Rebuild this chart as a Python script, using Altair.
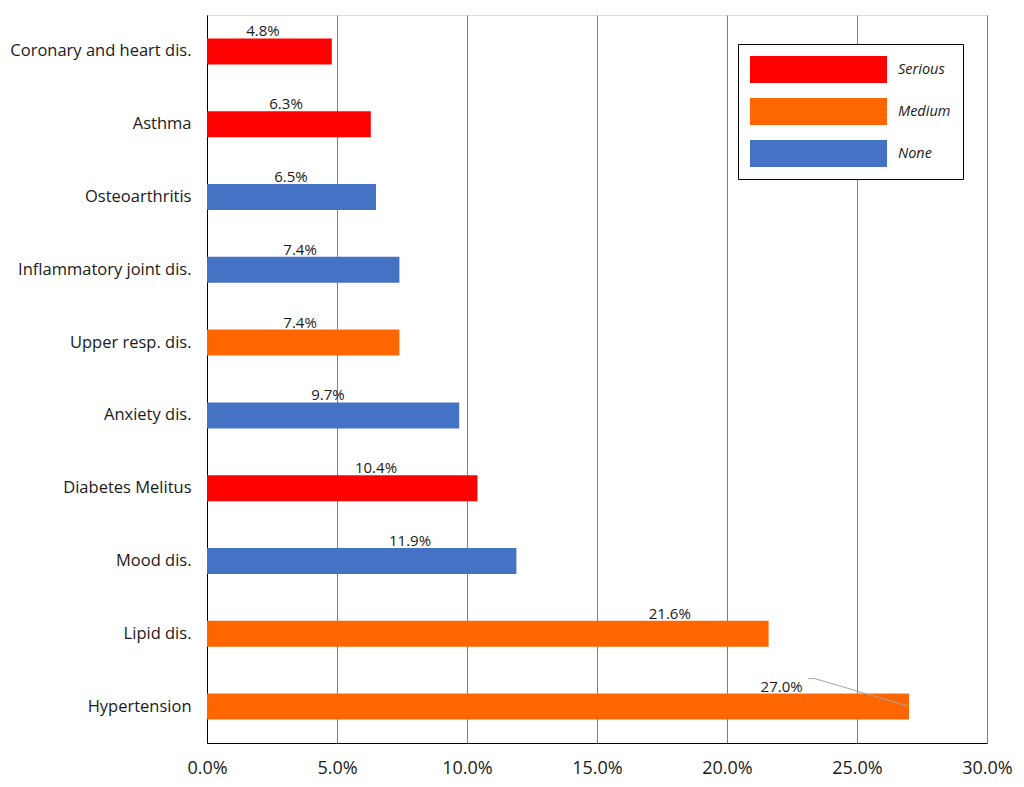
import altair as alt
import pandas as pd

categories = ["Coronary and heart dis.", "Asthma", "Osteoarthritis", "Inflammatory joint dis.",
              "Upper resp. dis.", "Anxiety dis.", "Diabetes Melitus", "Mood dis.", "Lipid dis.", "Hypertension"]
values = [4.8, 6.3, 6.5, 7.4, 7.4, 9.7, 10.4, 11.9, 21.6, 27.0]
severity = ["Serious", "Serious", "None", "None", "Medium", "None", "Serious", "None", "Medium", "Medium"]
label_pos = [2.15, 3.04, 3.23, 3.58, 3.58, 4.65, 6.5, 7.81, 17.8, 22.1]

sev_domain = ["Serious", "Medium", "None"]
sev_colors = ["#FF0000", "#FF6600", "#4472C4"]
tick_values = [0, 0.05, 0.10, 0.15, 0.20, 0.25, 0.30]

df = pd.DataFrame({
    "cat": categories,
    "val": [v / 100 for v in values],
    "sev": severity,
    "lpos": [p / 100 for p in label_pos],
    "label": [f"{v:.1f}%" for v in values],
})

FONT = "Open Sans"
TXT = "#1a1a1a"

y_enc = alt.Y("cat:N", sort=categories, title=None,
              scale=alt.Scale(paddingInner=0.643, paddingOuter=0.3215),
              axis=alt.Axis(labelFontSize=16.5, labelColor=TXT, labelPadding=16,
                            ticks=False, domainColor="black", labelFont=FONT, labelLimit=300))

base = alt.Chart(df)

bars = base.mark_bar().encode(
    x=alt.X("val:Q", title=None,
            scale=alt.Scale(domain=[0, 0.30], nice=False),
            axis=alt.Axis(values=tick_values, format=".1%", labelFontSize=18, labelColor=TXT,
                          labelPadding=16, ticks=False, grid=True, gridColor="#7f7f7f",
                          domainColor="black", labelFont=FONT, labelFlush=False)),
    y=y_enc,
    color=alt.Color("sev:N", scale=alt.Scale(domain=sev_domain, range=sev_colors),
                    legend=alt.Legend(title=None, orient="none", legendX=531, legendY=29,
                                      symbolType="M-1,-1L9.148,-1L9.148,1L-1,1Z",
                                      symbolSize=729, symbolStrokeWidth=0,
                                      labelFontStyle="italic", labelFontSize=14.5, labelFont=FONT,
                                      labelColor=TXT, labelOffset=121, rowPadding=15,
                                      padding=12, strokeColor="black", fillColor="white")),
)

texts = base.mark_text(fontSize=15, color=TXT, dy=-20, font=FONT).encode(
    x=alt.X("lpos:Q"),
    y=alt.Y("cat:N", sort=categories),
    text="label:N",
)

hyp = df[df["cat"] == "Hypertension"].copy()
hyp["x1"] = 0.2312
hyp["x2"] = 0.2338
hyp["x3"] = 0.2696

lead_color = "#a6a6a6"
lead1 = alt.Chart(hyp).mark_rule(color=lead_color, strokeWidth=1, yOffset=-28).encode(
    x="x1:Q", x2="x2:Q", y=alt.Y("cat:N", sort=categories, bandPosition=0.5))
lead2 = alt.Chart(hyp).mark_rule(color=lead_color, strokeWidth=1, yOffset=-28, y2Offset=-0.5).encode(
    x="x2:Q", x2="x3:Q", y=alt.Y("cat:N", sort=categories, bandPosition=0.5),
    y2=alt.Y2("cat:N", bandPosition=0.5))

chart = alt.layer(bars, texts, lead1, lead2).properties(
    width=780, height=728,
    autosize=alt.AutoSizeParams(type="none"),
    padding={"left": 199, "top": 7, "right": 28, "bottom": 42},
).configure_view(stroke="black", strokeWidth=1).configure(font=FONT)

chart.save("out.html", embed_options={"renderer": "svg", "actions": False})
